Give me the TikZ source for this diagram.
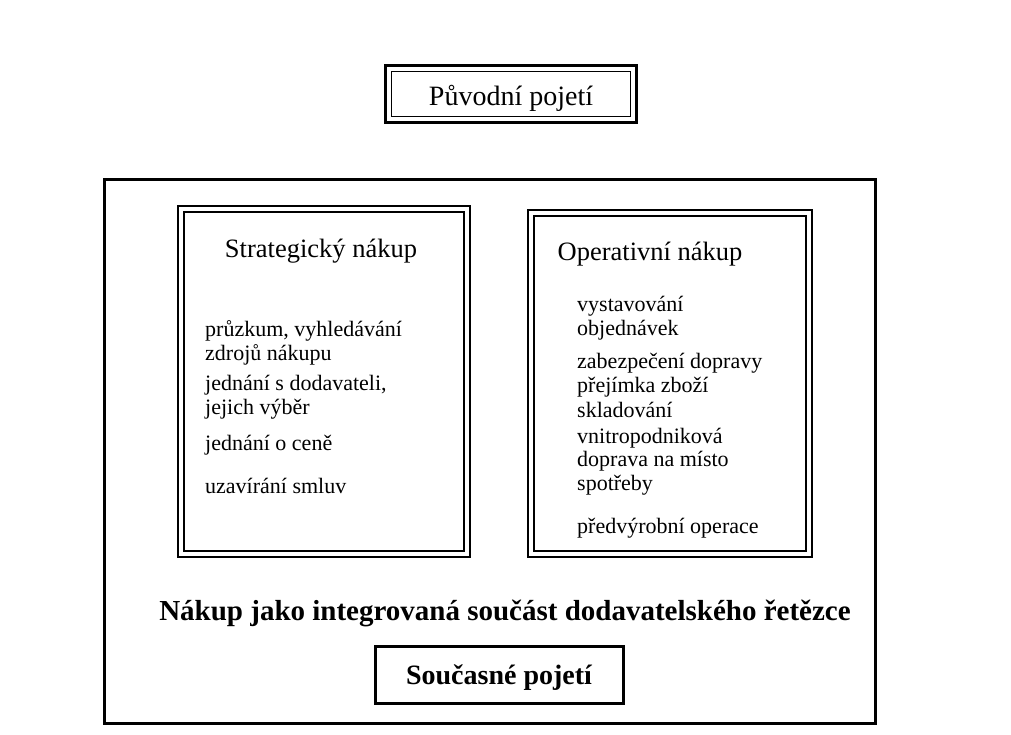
\documentclass[tikz,border=0pt]{standalone}
\usepackage{fontspec}
\setmainfont{Liberation Serif}
\usepackage{tikz}

\begin{document}
\begin{tikzpicture}[x=1pt,y=-1pt,
  title/.style={font=\fontsize{26.5}{30}\selectfont, anchor=base},
  item/.style={font=\fontsize{22}{23.5}\selectfont, anchor=base west, align=left, inner sep=0pt},
  boldtext/.style={font=\bfseries\fontsize{29}{32}\selectfont, anchor=base}]
\fill[white] (0,0) rectangle (1011,735);
% top box
\draw[line width=3pt] (385,66) rectangle (636,123);
\draw[line width=1pt] (391,72) rectangle (630,117);
\node[title, font=\fontsize{28}{30}\selectfont] (puvodni) at (511,106) {Původní pojetí};
% outer frame
\draw[line width=3pt] (104,180) rectangle (875,723);
% strategic purchasing
\draw[line width=2pt] (178,206) rectangle (470,557);
\draw[line width=1.2pt] (184,212) rectangle (464,551);
\node[title] (strat) at (321,258) {Strategický nákup};
\node[item] (s1) at (205,360) {průzkum, vyhledávání\\zdrojů nákupu};
\node[item] (s2) at (205,414) {jednání s dodavateli,\\jejich výběr};
\node[item] (s3) at (205,450) {jednání o ceně};
\node[item] (s4) at (205,493) {uzavírání smluv};
% operative purchasing
\draw[line width=2pt] (528,210) rectangle (812,557);
\draw[line width=1.2pt] (534,216) rectangle (806,551);
\node[title] (oper) at (650,261) {Operativní nákup};
\node[item] (o1) at (577,335) {vystavování\\objednávek};
\node[item] (o2) at (577,368) {zabezpečení dopravy};
\node[item] (o3) at (577,392) {přejímka zboží};
\node[item] (o4) at (577,417) {skladování};
\node[item] (o5) at (577,490) {vnitropodniková\\doprava na místo\\spotřeby};
\node[item] (o6) at (577,533) {předvýrobní operace};
% bottom
\node[boldtext] (integr) at (505,620) {Nákup jako integrovaná součást dodavatelského řetězce};
\draw[line width=3pt] (375,646) rectangle (623,703);
\node[boldtext, font=\bfseries\fontsize{28}{30}\selectfont] (soucasne) at (499,684) {Současné pojetí};
\end{tikzpicture}
\end{document}
